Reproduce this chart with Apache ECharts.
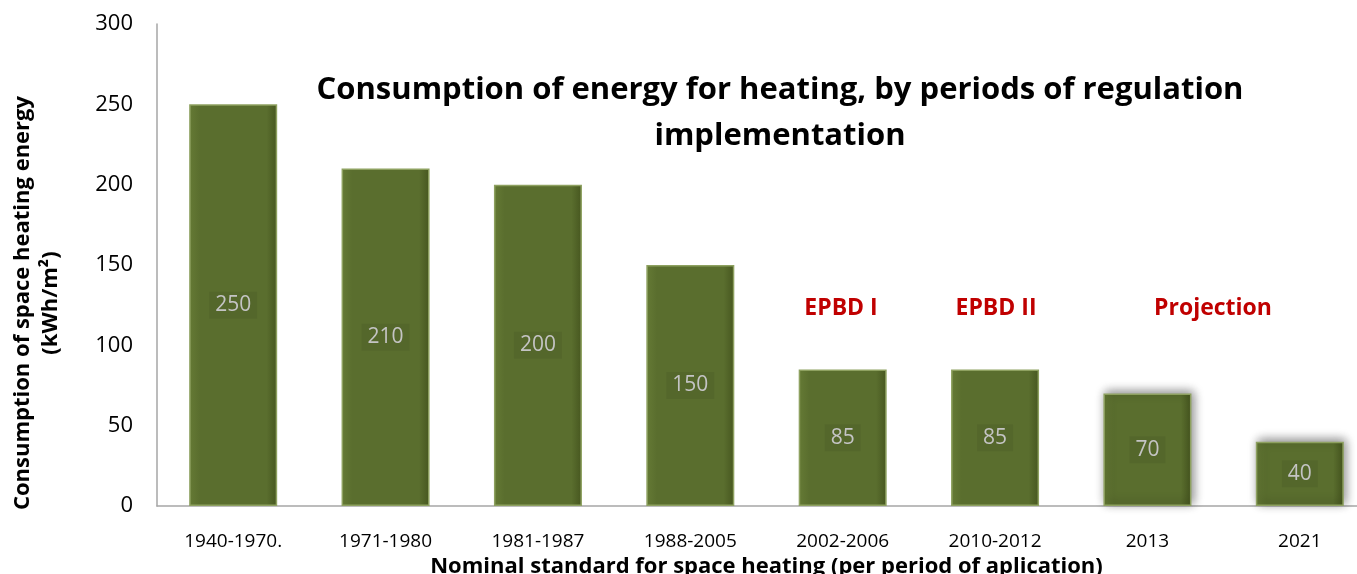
<!DOCTYPE html>
<html>
<head>
<meta charset="utf-8">
<script src="https://cdn.jsdelivr.net/npm/echarts@6/dist/echarts.min.js"></script>
<style>
  html, body { margin: 0; padding: 0; background: #fff; }
  #chart { width: 1357px; height: 574px; }
</style>
</head>
<body>
<div id="chart"></div>
<script>
// periods of regulation
const periods = ['1940-1970.', '1971-1980', '1981-1987', '1988-2005', '2002-2006', '2010-2012', '2013', '2021']
// kWh/m2
const consumption = [250, 210, 200, 150, 85, 85, 70, 40]
// notes above the bars
const notes = ['EPBD I', 'EPBD II', 'Projection']

const font = '"Open Sans", "Liberation Sans", sans-serif'
const chart = echarts.init(document.getElementById('chart'))

const barData = consumption.map((v, i) => {
  const item = { value: v }
  // projected bars have a soft shadow
  if (i >= 6) {
    item.itemStyle = {
      shadowBlur: 10,
      shadowColor: 'rgba(0,0,0,0.45)',
      shadowOffsetX: 2,
      shadowOffsetY: -2
    }
  }
  return item
})

const noteStyle = { fill: '#c00000', font: 'bold 23px ' + font, textAlign: 'center', textVerticalAlign: 'middle' }

const option = {
  animation: false,
  textStyle: { fontFamily: font },
  title: {
    text: 'Consumption of energy for heating, by periods of regulation\nimplementation',
    left: 775,
    top: 62,
    textAlign: 'center',
    textStyle: {
      fontFamily: font,
      fontSize: 31,
      fontWeight: 'bold',
      color: '#000',
      lineHeight: 46
    }
  },
  grid: {
    left: 157,
    top: 24,
    width: 1219,
    height: 482,
    outerBoundsMode: 'none',
    containLabel: false
  },
  xAxis: {
    type: 'category',
    data: periods,
    axisLine: { lineStyle: { color: '#a6a6a6', width: 1.5 } },
    axisTick: { show: false },
    axisLabel: { color: '#000', fontSize: 19, margin: 26, fontFamily: font },
    name: 'Nominal standard for space heating (per period of aplication)',
    nameLocation: 'middle',
    nameGap: 48,
    nameTextStyle: { color: '#000', fontSize: 22, fontWeight: 'bold', fontFamily: font }
  },
  yAxis: {
    type: 'value',
    min: 0,
    max: 300,
    interval: 50,
    splitLine: { show: false },
    axisLine: { show: true, lineStyle: { color: '#a6a6a6', width: 1.5 } },
    axisTick: { show: false },
    axisLabel: { color: '#000', fontSize: 22, margin: 24, fontFamily: font },
    name: 'Consumption of space heating energy\n(kWh/m²)',
    nameLocation: 'middle',
    nameGap: 92,
    nameTextStyle: {
      color: '#000', fontSize: 22, fontWeight: 'bold', lineHeight: 28, fontFamily: font,
      padding: [0, 76, 0, 0]
    }
  },
  series: [
    {
      type: 'bar',
      data: barData,
      barWidth: 88,
      itemStyle: {
        color: {
          type: 'linear', x: 0, y: 0, x2: 1, y2: 0,
          colorStops: [
            { offset: 0, color: '#657a35' },
            { offset: 0.12, color: '#5a6e2e' },
            { offset: 0.88, color: '#5a6e2e' },
            { offset: 1, color: '#46561f' }
          ]
        },
        borderColor: '#8ea160',
        borderWidth: 1.5
      },
      label: {
        show: true,
        position: 'inside',
        color: '#c4c4c4',
        fontSize: 21,
        fontFamily: font,
        backgroundColor: 'rgba(0,0,0,0.06)',
        padding: [3, 6]
      }
    }
  ],
  graphic: [
    { type: 'text', x: 841, y: 308, style: Object.assign({ text: notes[0] }, noteStyle) },
    { type: 'text', x: 996, y: 308, style: Object.assign({ text: notes[1] }, noteStyle) },
    { type: 'text', x: 1213, y: 308, style: Object.assign({ text: notes[2] }, noteStyle) }
  ]
}

chart.setOption(option)
</script>
</body>
</html>
